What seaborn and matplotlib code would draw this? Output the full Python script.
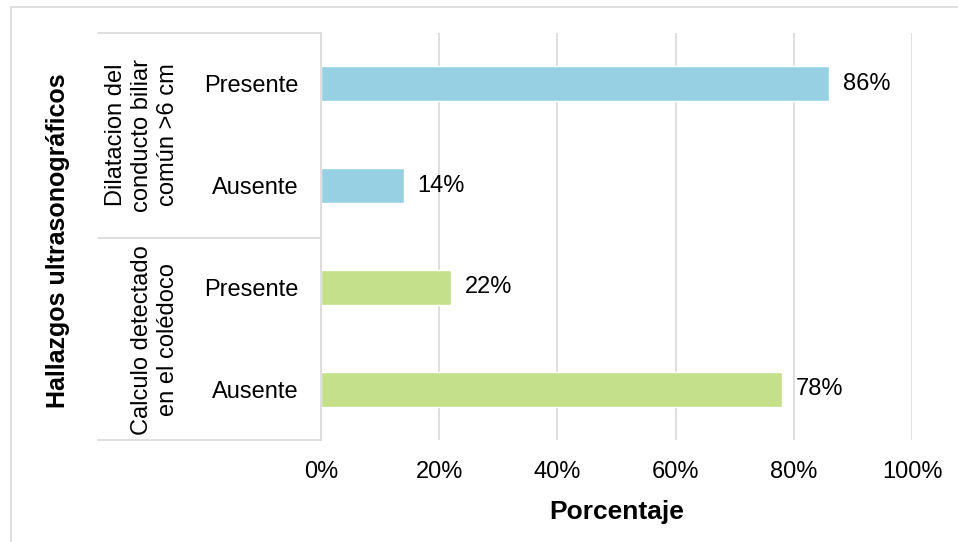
import matplotlib
matplotlib.use("Agg")
import matplotlib.pyplot as plt
import seaborn as sns
import pandas as pd
from matplotlib.patches import Rectangle
from matplotlib.lines import Line2D

# ---- data ----
groups = ["Dilatacion del\nconducto biliar\ncomún >6 cm", "Dilatacion del\nconducto biliar\ncomún >6 cm",
          "Calculo detectado\nen el colédoco", "Calculo detectado\nen el colédoco"]
group_keys = ["Dilatacion", "Dilatacion", "Calculo", "Calculo"]
categories = ["Presente", "Ausente", "Presente", "Ausente"]
values = [86, 14, 22, 78]
x_ticks = [0, 20, 40, 60, 80, 100]
x_tick_labels = ["0%", "20%", "40%", "60%", "80%", "100%"]
colors = {"Dilatacion": "#96D0E2", "Calculo": "#C4E08A"}

ids = [f"{g}_{c}" for g, c in zip(group_keys, categories)]
df = pd.DataFrame({"id": ids, "grupo": group_keys, "cat": categories, "valor": values})

sns.set_theme(style="white")
plt.rcParams["font.family"] = ["Liberation Sans", "DejaVu Sans"]

W, H = 958, 542
fig = plt.figure(figsize=(W / 100, H / 100), dpi=100)

def fx(px):
    return px / W

def fy(py):
    return 1 - py / H

ax_l, ax_r, ax_t, ax_b = 321, 912, 33, 440
ax = fig.add_axes([fx(ax_l), fy(ax_b), fx(ax_r) - fx(ax_l), fy(ax_t) - fy(ax_b)])

sns.barplot(data=df, y="id", x="valor", hue="grupo", palette=colors, order=ids,
            orient="h", width=0.345, dodge=False, legend=False, ax=ax, saturation=1)

FS = 17
ax.set_xlim(0, 100)
ax.set_ylim(3.5, -0.5)
ax.set_xticks(x_ticks)
ax.set_xticklabels(x_tick_labels, fontsize=FS, color="#000000")
ax.set_yticks(range(len(ids)))
ax.set_yticklabels(categories, fontsize=FS, color="#000000")
ax.tick_params(axis="both", length=0)
ax.tick_params(axis="x", pad=15)
ax.tick_params(axis="y", pad=16)
ax.set_ylabel("")
ax.set_xlabel("Porcentaje", fontsize=19, fontweight="bold", labelpad=12, color="#000000")
ax.grid(axis="x", color="#d9d9d9", linewidth=1.2)
ax.set_axisbelow(True)
for s in ["top", "right", "bottom"]:
    ax.spines[s].set_visible(False)
ax.spines["left"].set_color("#d9d9d9")
ax.spines["left"].set_linewidth(1.2)

for i, v in enumerate(values):
    ax.annotate(f"{v}%", xy=(v, i), xytext=(10, 0), textcoords="offset points",
                va="center", ha="left", fontsize=FS, color="#000000")

# hierarchy lines
for py in [33, 238, 440]:
    fig.add_artist(Line2D([fx(98), fx(321)], [fy(py), fy(py)], color="#d9d9d9", linewidth=1.2))

# group labels
fig.text(fx(142), fy(135), groups[0], rotation=90, ha="center", va="center",
         fontsize=FS, color="#000000", linespacing=1.22)
fig.text(fx(155), fy(340), groups[2], rotation=90, ha="center", va="center",
         fontsize=FS, color="#000000", linespacing=1.22)

# y title
fig.text(fx(58), fy(241), "Hallazgos ultrasonográficos", rotation=90, ha="center", va="center",
         fontsize=18, fontweight="bold", color="#000000")

# outer border
fig.add_artist(Rectangle((fx(11), -0.1), 1.2, fy(7) + 0.1, transform=fig.transFigure,
                         fill=False, edgecolor="#d9d9d9", linewidth=1.2))

fig.savefig("out.png", dpi=100)
